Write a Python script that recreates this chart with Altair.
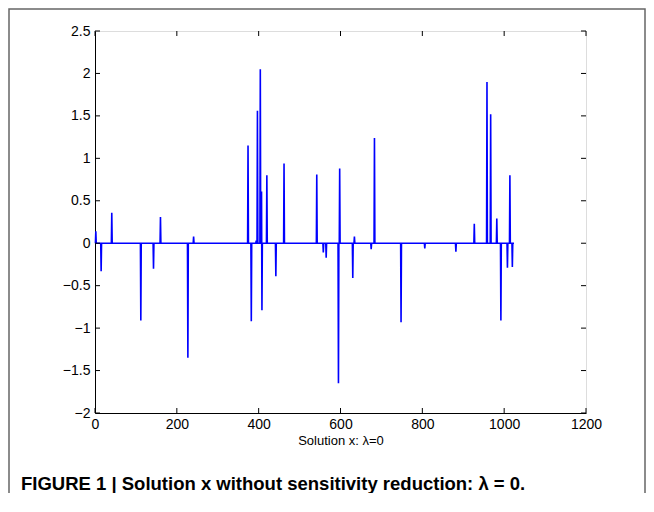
import altair as alt
import pandas as pd

# Sparse solution vector: index -> value (all other entries are zero)
spike_idx = [2, 15, 41, 112, 143, 160, 227, 241, 374, 382, 394, 397, 404, 407, 408,
             420, 442, 462, 542, 558, 565, 595, 598, 630, 634, 675, 683, 748, 806,
             882, 927, 958, 967, 982, 992, 1008, 1014, 1020]
spike_val = [0.14, -0.33, 0.36, -0.91, -0.30, 0.31, -1.35, 0.08, 1.15, -0.92, 0.03, 1.56,
             2.05, 0.61, -0.79, 0.80, -0.39, 0.94, 0.81, -0.11, -0.17, -1.65, 0.88, -0.41,
             0.08, -0.07, 1.24, -0.93, -0.06, -0.10, 0.23, 1.90, 1.52, 0.29, -0.91,
             -0.29, 0.80, -0.28]
n_points = 1024

x_ticks = [0, 200, 400, 600, 800, 1000, 1200]
y_ticks = [-2, -1.5, -1, -0.5, 0, 0.5, 1, 1.5, 2, 2.5]

x_title = "Solution x: λ=0"
caption = "FIGURE 1 | Solution x without sensitivity reduction: λ = 0."

vals = dict(zip(spike_idx, spike_val))
df = pd.DataFrame({"x": list(range(1, n_points + 1)),
                   "y": [vals.get(i, 0.0) for i in range(1, n_points + 1)]})

W, H = 491, 382
FONT = "Liberation Sans"

xs = alt.Scale(domain=[0, 1200], nice=False, zero=False)
ys = alt.Scale(domain=[-2, 2.5], nice=False, zero=False)
xax = alt.Axis(values=x_ticks, ticks=False, grid=False, labelPadding=4, titlePadding=3,
               format="d", domainColor="black", labelColor="black", titleColor="black",
               labelFont=FONT, labelFontSize=14, titleFont=FONT, titleFontSize=13,
               titleFontWeight="normal", labelFlush=False)
yax = alt.Axis(values=y_ticks, ticks=False, grid=False, labelPadding=5, title=None,
               format="~g", domainColor="black", labelColor="black", labelFont=FONT,
               labelFontSize=14, labelFlush=False)

X = lambda: alt.X("x:Q", scale=xs, axis=xax, title=x_title)
Y = lambda: alt.Y("y:Q", scale=ys, axis=yax)

line = alt.Chart(df).mark_line(color="#0000ff", strokeWidth=1.6).encode(x=X(), y=Y())

xt = pd.DataFrame({"x": x_ticks})
yt = pd.DataFrame({"y": y_ticks})
tb = alt.Chart(xt).mark_rule(color="black").encode(x=X(), y=alt.value(H), y2=alt.value(H - 5))
tt = alt.Chart(xt).mark_rule(color="black").encode(x=X(), y=alt.value(0), y2=alt.value(5))
tl = alt.Chart(yt).mark_rule(color="black").encode(y=Y(), x=alt.value(0), x2=alt.value(5))
tr = alt.Chart(yt).mark_rule(color="black").encode(y=Y(), x=alt.value(W - 5), x2=alt.value(W))

one = pd.DataFrame({"t": [caption]})
frame = alt.Chart(one).mark_rect(fill=None, stroke="#666666", strokeWidth=1.5).encode(
    x=alt.value(-86), x2=alt.value(W + 59), y=alt.value(-22), y2=alt.value(H + 200))
cap = alt.Chart(one).mark_text(align="left", baseline="middle", font=FONT, fontSize=18.5,
                               fontWeight="bold", color="black").encode(
    x=alt.value(-74), y=alt.value(453), text="t:N")

chart = alt.layer(frame, line, tb, tt, tl, tr, cap).properties(
    width=W, height=H,
    autosize=alt.AutoSizeParams(type="none"),
    padding={"left": 87, "top": 23, "right": 60, "bottom": 80},
).configure_view(stroke="black", strokeWidth=1).configure(background="white")

chart.save("out.html", embed_options={"renderer": "svg", "actions": False})
